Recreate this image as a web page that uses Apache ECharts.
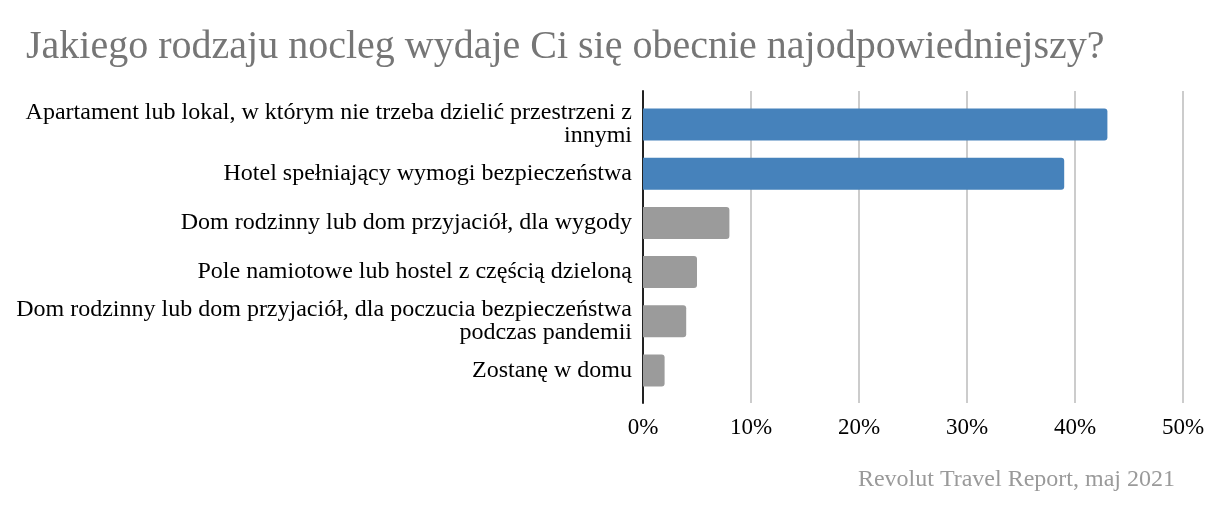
<!DOCTYPE html>
<html>
<head>
<meta charset="utf-8">
<script src="https://cdn.jsdelivr.net/npm/echarts@6/dist/echarts.min.js"></script>
<style>
  html, body { margin: 0; padding: 0; background: #fff; }
  #chart { width: 1220px; height: 514px; }
</style>
</head>
<body>
<div id="chart"></div>
<script>
// Dane
const categories = [
  'Apartament lub lokal, w którym nie trzeba dzielić przestrzeni z\ninnymi',
  'Hotel spełniający wymogi bezpieczeństwa',
  'Dom rodzinny lub dom przyjaciół, dla wygody',
  'Pole namiotowe lub hostel z częścią dzieloną',
  'Dom rodzinny lub dom przyjaciół, dla poczucia bezpieczeństwa\npodczas pandemii',
  'Zostanę w domu'
];
const values = [43, 39, 8, 5, 4, 2];
const highlighted = [true, true, false, false, false, false];

const FONT = '"Liberation Serif", "DejaVu Serif", serif';
const BLUE = '#4682bb';
const GREY = '#9b9b9b';

const chart = echarts.init(document.getElementById('chart'));

chart.setOption({
  backgroundColor: '#ffffff',
  animation: false,
  title: [
    {
      text: 'Jakiego rodzaju nocleg wydaje Ci się obecnie najodpowiedniejszy?',
      left: 21,
      top: 22,
      textStyle: { fontFamily: FONT, fontSize: 40, fontWeight: 'normal', color: '#767676' }
    },
    {
      text: 'Revolut Travel Report, maj 2021',
      right: 40,
      top: 463,
      textStyle: { fontFamily: FONT, fontSize: 24, fontWeight: 'normal', color: '#9a9a9a' }
    }
  ],
  // grid 0: linie siatki i oś wartości, grid 1: słupki
  grid: [
    { left: 643, right: 37, top: 91, bottom: 111 },
    { left: 643, right: 37, top: 100, bottom: 119 }
  ],
  xAxis: [
    {
      type: 'value', gridIndex: 0, min: 0, max: 50, interval: 10,
      axisLine: { show: false },
      axisTick: { show: false },
      splitLine: { lineStyle: { color: '#cccccc', width: 2 } },
      axisLabel: {
        formatter: '{value}%', margin: 13,
        fontFamily: FONT, fontSize: 23, color: '#000'
      }
    },
    {
      type: 'value', gridIndex: 1, min: 0, max: 50, interval: 10,
      show: false
    }
  ],
  yAxis: [
    {
      type: 'category', gridIndex: 0, data: [''],
      axisLine: { show: true, lineStyle: { color: '#222', width: 2 } },
      axisTick: { show: false },
      axisLabel: { show: false }
    },
    {
      type: 'category', gridIndex: 1, data: categories, inverse: true,
      axisLine: { show: false },
      axisTick: { show: false },
      axisLabel: {
        margin: 11, fontFamily: FONT, fontSize: 24, color: '#000',
        lineHeight: 23, align: 'right'
      }
    }
  ],
  series: [
    {
      type: 'bar',
      xAxisIndex: 1,
      yAxisIndex: 1,
      barWidth: 32,
      data: values.map((v, i) => ({
        value: v,
        itemStyle: { color: highlighted[i] ? BLUE : GREY, borderRadius: [0, 3, 3, 0] }
      }))
    }
  ]
});
</script>
</body>
</html>
